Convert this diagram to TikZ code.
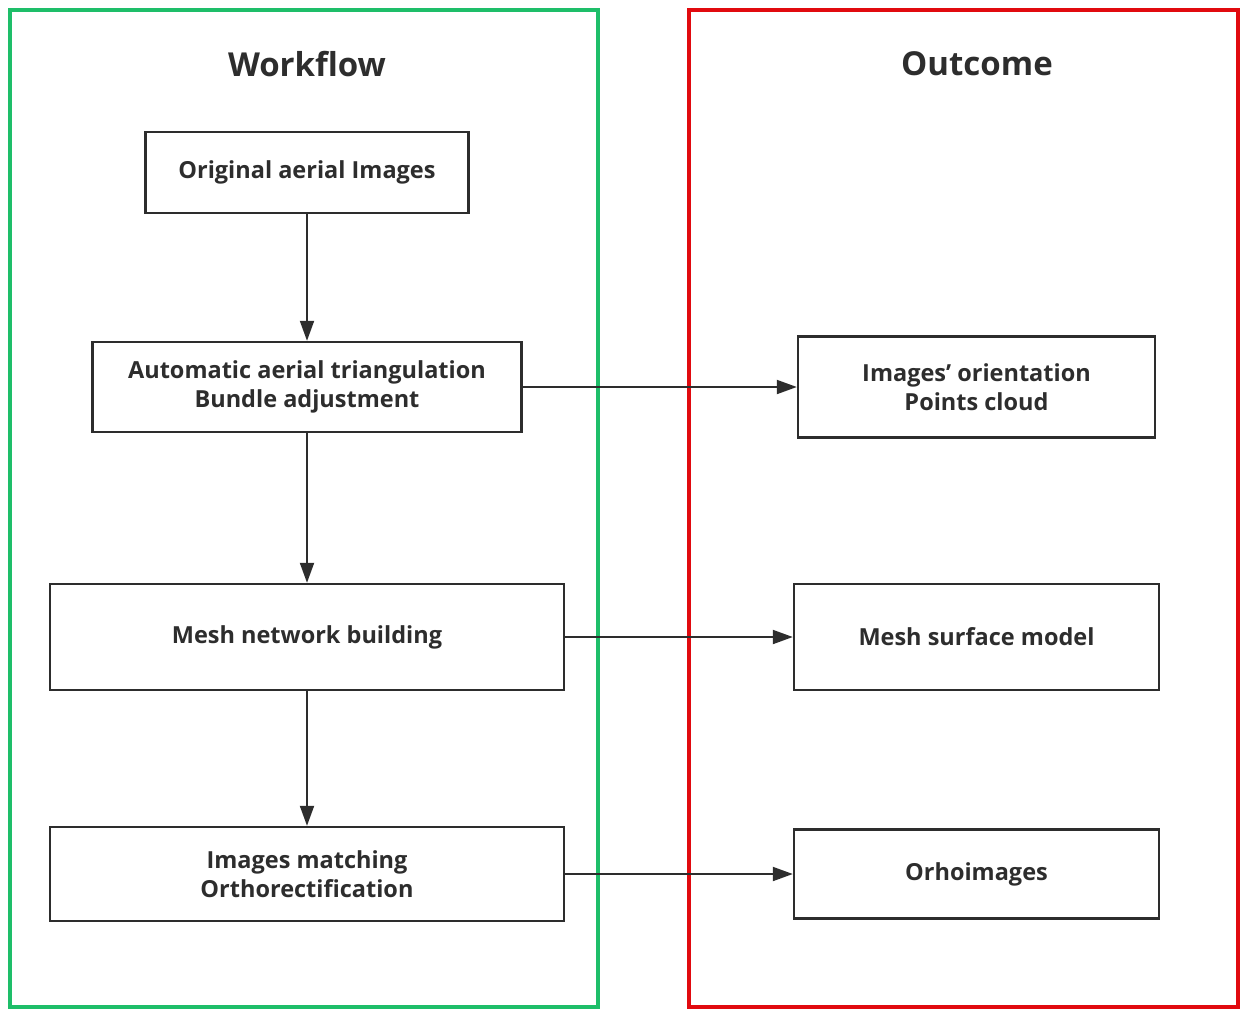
\documentclass[tikz,border=0pt]{standalone}
\usepackage{fontspec}
\setmainfont{Open Sans}
\usetikzlibrary{arrows.meta}

\definecolor{framegreen}{RGB}{30,190,105}
\definecolor{framered}{RGB}{225,10,15}
\definecolor{inkgray}{RGB}{45,45,45}

\begin{document}
\begin{tikzpicture}[
  x=1pt, y=-1pt,
  font=\fontsize{23.5}{29}\selectfont\bfseries,
  arrow/.style={-{Triangle[length=20pt, width=14pt]}, line width=2pt, inkgray},
  box/.style={
    draw=inkgray,
    line width=2.4pt,
    text=inkgray,
    align=center,
    inner sep=0pt
  },
  panel/.style={line width=4pt},
  title/.style={font=\fontsize{33}{38}\selectfont\bfseries, text=inkgray}
]
\useasboundingbox (0,0) rectangle (1242,1010);

% =========================
% Panels
% =========================
\draw[panel, framegreen] (10,10) rectangle (598,1007);
\draw[panel, framered] (689,10) rectangle (1238,1007);

\node[title] (wtitle) at (307,64) {Workflow};
\node[title] (otitle) at (977,64) {Outcome};

% =========================
% LEFT COLUMN
% =========================
\node[box, minimum width=323pt, minimum height=81pt] (orig) at (307,172.5)
{Original aerial Images};

\node[box, minimum width=429pt, minimum height=90pt] (aat) at (307,387)
{Automatic aerial triangulation\\
Bundle adjustment};

\node[box, minimum width=514pt, minimum height=106pt] (mesh) at (307,637)
{Mesh network building};

\node[box, minimum width=514pt, minimum height=94pt] (ortho) at (307,874)
{Images matching\\
Orthorectification};

\draw[arrow] (orig) -- (aat);
\draw[arrow] (aat) -- (mesh);
\draw[arrow] (mesh) -- (ortho);

% =========================
% RIGHT COLUMN
% =========================
\node[box, minimum width=357pt, minimum height=101pt] (orient) at (976.5,387)
{Images' orientation\\
Points cloud};

\node[box, minimum width=365pt, minimum height=106pt] (surf) at (976.5,637)
{Mesh surface model};

\node[box, minimum width=365pt, minimum height=89pt] (dom) at (976.5,874)
{Orhoimages};

\draw[arrow] (aat) -- (orient);
\draw[arrow] (mesh) -- (surf);
\draw[arrow] (ortho) -- (dom);

\end{tikzpicture}
\end{document}
